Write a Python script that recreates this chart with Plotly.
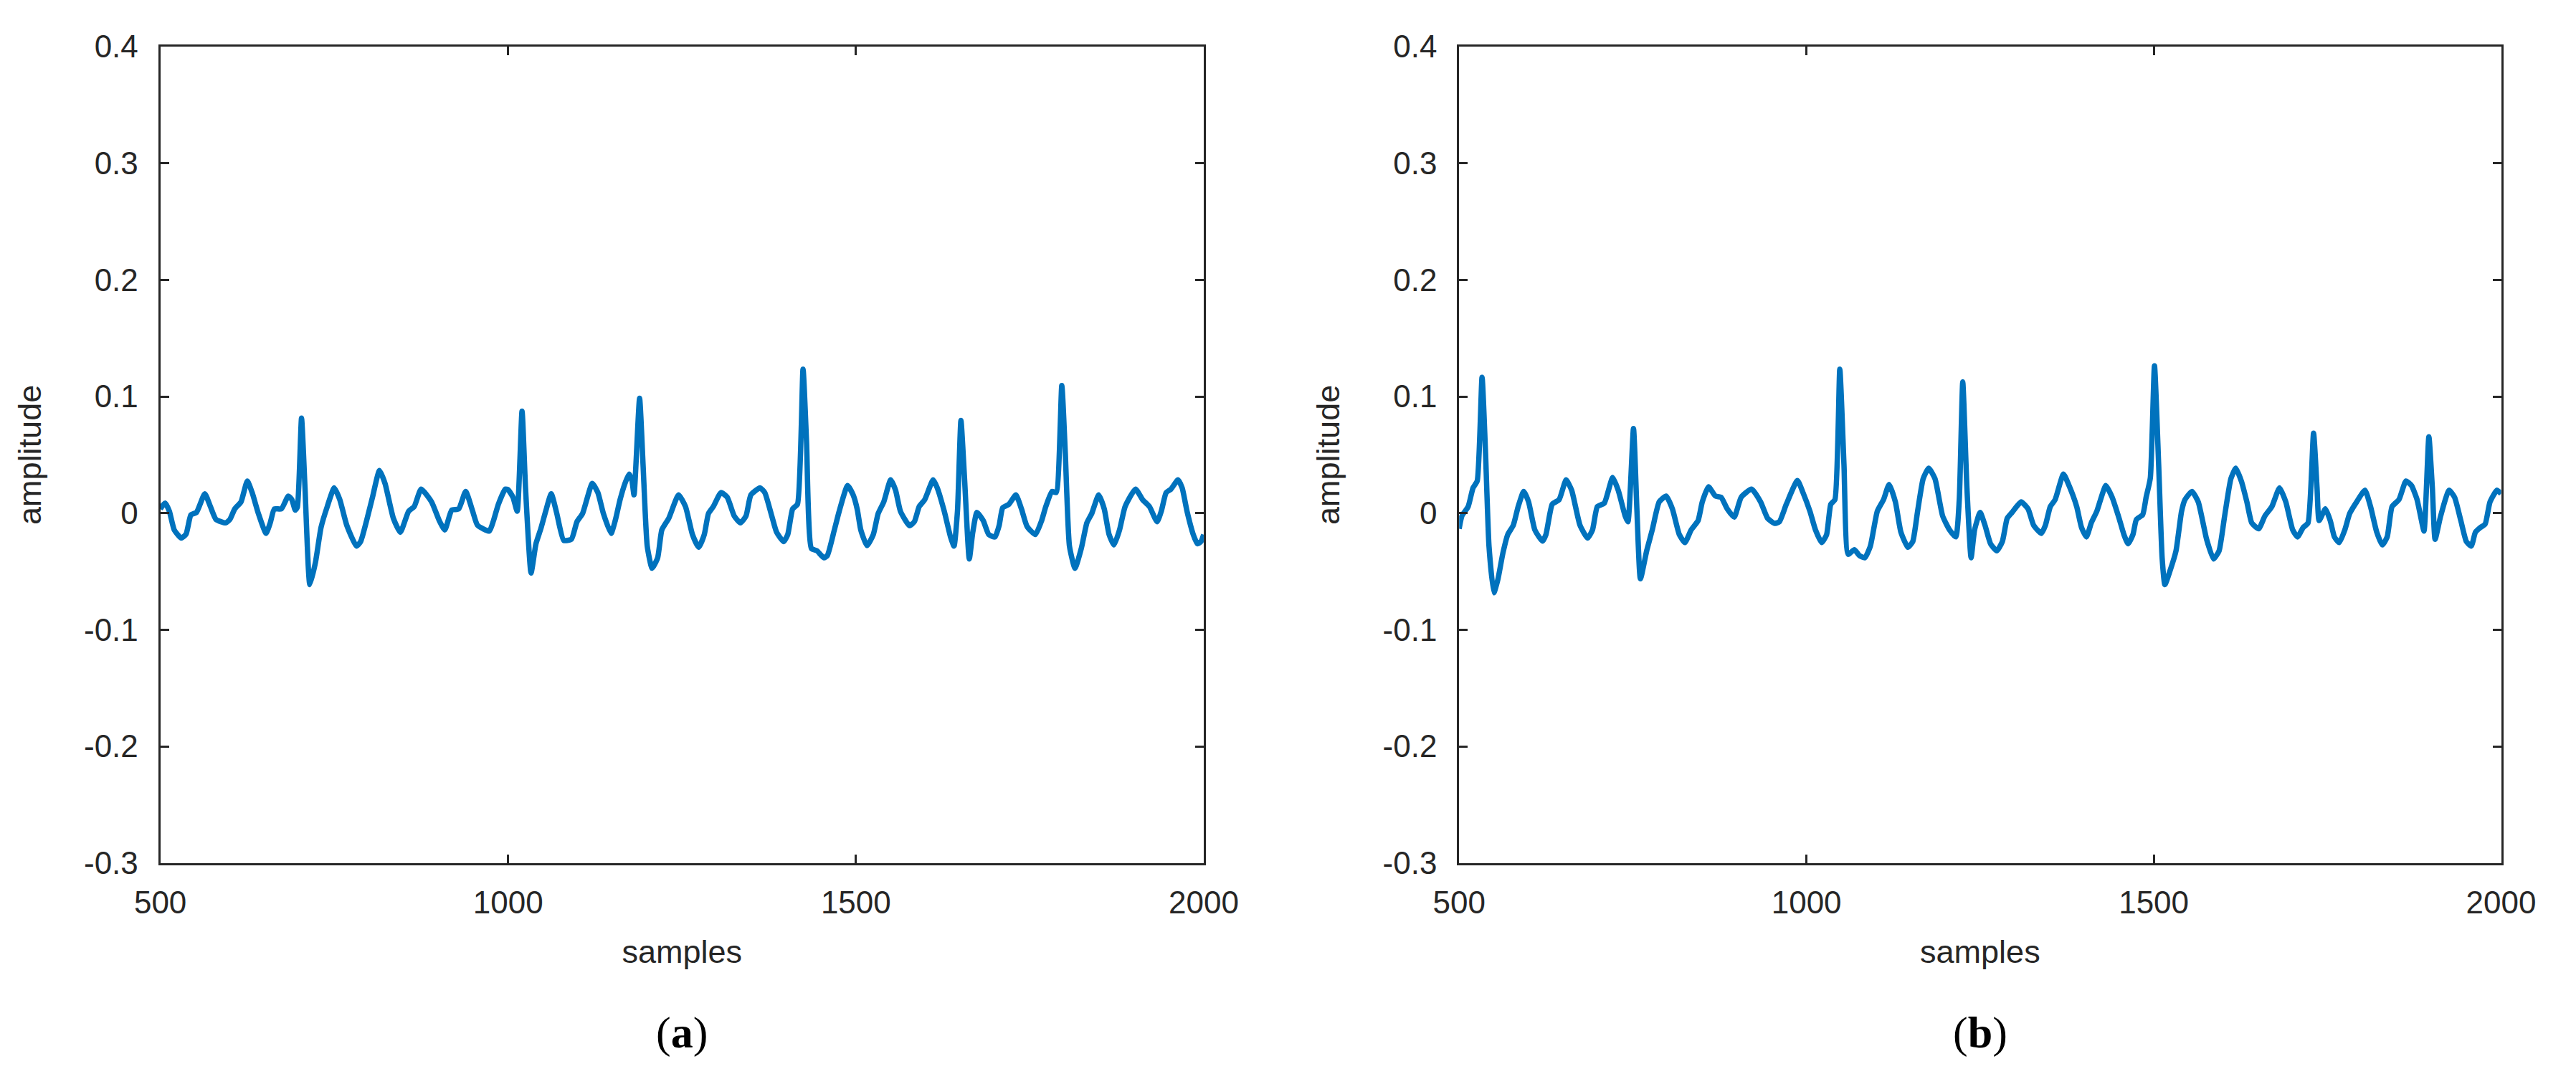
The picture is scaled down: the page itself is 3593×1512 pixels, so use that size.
import plotly.graph_objects as go

# ---- data: panel (a) ----
samples_a = [500, 507, 513, 520, 530, 537, 544, 552, 564, 572, 580, 594, 600, 607, 616, 625, 632, 641, 652, 658,
             664, 674, 684, 689, 694, 697, 703, 708, 715, 723, 731, 740, 750, 758, 768, 782, 788, 797, 805, 815,
             823, 835, 845, 857, 865, 875, 890, 901, 909, 919, 929, 939, 949, 956, 973, 979, 986, 996, 1000, 1007,
             1013, 1020, 1025, 1033, 1040, 1047, 1054, 1062, 1070, 1080, 1091, 1099, 1107, 1121, 1129, 1137, 1148, 1154, 1161, 1168,
             1174, 1178, 1181, 1189, 1194, 1200, 1207, 1215, 1221, 1231, 1245, 1255, 1265, 1274, 1282, 1288, 1295, 1306, 1315, 1325,
             1334, 1342, 1349, 1362, 1369, 1379, 1386, 1396, 1402, 1409, 1416, 1424, 1429, 1436, 1444, 1454, 1459, 1469, 1476, 1488,
             1496, 1502, 1507, 1516, 1525, 1532, 1540, 1550, 1557, 1564, 1577, 1584, 1591, 1599, 1611, 1617, 1627, 1636, 1641, 1646,
             1651, 1656, 1663, 1668, 1674, 1683, 1691, 1700, 1706, 1711, 1720, 1730, 1738, 1746, 1758, 1767, 1773, 1782, 1788, 1796,
             1801, 1807, 1815, 1824, 1832, 1839, 1849, 1857, 1864, 1871, 1879, 1887, 1902, 1912, 1922, 1933, 1939, 1946, 1953, 1963,
             1969, 1976, 1985, 1991, 1996, 2000]
amplitude_a = [0.0036, 0.0086, 0.0016, -0.0144, -0.0214, -0.0180, -0.0014, 0.0006, 0.0166, 0.0056, -0.0054, -0.0084, -0.0054, 0.0036, 0.0096, 0.0275, 0.0176, -0.0004, -0.0174, -0.0084,
               0.0036, 0.0036, 0.0146, 0.0116, 0.0026, 0.0050, 0.0814, 0.0216, -0.0613, -0.0423, -0.0124, 0.0056, 0.0216, 0.0116, -0.0104, -0.0283, -0.0244, -0.0054, 0.0136, 0.0365,
               0.0255, -0.0044, -0.0164, 0.0016, 0.0056, 0.0206, 0.0096, -0.0064, -0.0144, 0.0026, 0.0036, 0.0186, 0.0016, -0.0104, -0.0154, -0.0064, 0.0076, 0.0206, 0.0200, 0.0136,
               0.0016, 0.0874, 0.0216, -0.0513, -0.0263, -0.0134, 0.0016, 0.0166, -0.0004, -0.0234, -0.0224, -0.0074, -0.0004, 0.0255, 0.0176, -0.0004, -0.0174, -0.0064, 0.0116, 0.0255,
               0.0335, 0.0280, 0.0156, 0.0984, 0.0415, -0.0283, -0.0473, -0.0383, -0.0144, -0.0044, 0.0156, 0.0056, -0.0184, -0.0293, -0.0184, -0.0004, 0.0056, 0.0176, 0.0136, -0.0024,
               -0.0084, -0.0024, 0.0156, 0.0216, 0.0176, -0.0024, -0.0164, -0.0244, -0.0184, 0.0036, 0.0076, 0.1234, 0.0615, -0.0303, -0.0323, -0.0383, -0.0363, -0.0144, 0.0016, 0.0236,
               0.0156, 0.0030, -0.0144, -0.0279, -0.0184, -0.0004, 0.0096, 0.0285, 0.0196, 0.0016, -0.0108, -0.0074, 0.0056, 0.0116, 0.0285, 0.0216, 0.0016, -0.0204, -0.0283, 0.0016,
               0.0794, 0.0315, -0.0393, -0.0164, 0.0006, -0.0064, -0.0184, -0.0204, -0.0104, 0.0046, 0.0076, 0.0156, 0.0036, -0.0114, -0.0184, -0.0064, 0.0056, 0.0186, 0.0176, 0.1094,
               0.0515, -0.0283, -0.0473, -0.0303, -0.0084, -0.0004, 0.0156, 0.0036, -0.0184, -0.0273, -0.0144, 0.0056, 0.0206, 0.0116, 0.0056, -0.0074, 0.0016, 0.0176, 0.0206, 0.0285,
               0.0216, 0.0016, -0.0184, -0.0263, -0.0244, -0.0184]

# ---- data: panel (b) ----
samples_b = [500, 504, 513, 520, 526, 533, 538, 543, 550, 556, 563, 570, 578, 585, 593, 600, 609, 620, 625, 634,
             644, 654, 662, 674, 685, 692, 699, 709, 721, 729, 739, 743, 751, 756, 761, 770, 778, 788, 798, 807,
             817, 825, 834, 844, 850, 859, 869, 877, 886, 896, 906, 921, 934, 944, 954, 961, 971, 987, 995, 1005,
             1013, 1022, 1029, 1035, 1041, 1048, 1054, 1060, 1069, 1076, 1084, 1092, 1102, 1111, 1119, 1128, 1136, 1146, 1153, 1160,
             1168, 1176, 1185, 1196, 1206, 1215, 1220, 1225, 1231, 1237, 1242, 1250, 1257, 1265, 1274, 1282, 1289, 1296, 1309, 1319,
             1327, 1338, 1344, 1351, 1358, 1370, 1378, 1389, 1396, 1403, 1410, 1418, 1431, 1440, 1450, 1457, 1463, 1470, 1475, 1484,
             1489, 1495, 1501, 1507, 1512, 1516, 1524, 1532, 1540, 1545, 1555, 1564, 1576, 1586, 1594, 1602, 1611, 1618, 1626, 1634,
             1641, 1651, 1660, 1670, 1681, 1690, 1700, 1707, 1715, 1722, 1730, 1735, 1738, 1747, 1754, 1760, 1767, 1775, 1782, 1792,
             1804, 1812, 1821, 1829, 1836, 1843, 1853, 1863, 1871, 1879, 1884, 1889, 1896, 1901, 1905, 1913, 1925, 1933, 1942, 1950,
             1957, 1963, 1970, 1977, 1984, 1994, 2000]
amplitude_b = [-0.0134, -0.0024, 0.0056, 0.0216, 0.0275, 0.1164, 0.0515, -0.0283, -0.0683, -0.0563, -0.0343, -0.0184, -0.0104, 0.0056, 0.0186, 0.0096, -0.0144, -0.0240, -0.0184, 0.0076,
               0.0116, 0.0285, 0.0196, -0.0104, -0.0214, -0.0144, 0.0056, 0.0086, 0.0305, 0.0196, -0.0024, -0.0074, 0.0725, 0.0016, -0.0563, -0.0323, -0.0144, 0.0096, 0.0146, 0.0036,
               -0.0184, -0.0253, -0.0144, -0.0064, 0.0096, 0.0226, 0.0146, 0.0136, 0.0036, -0.0034, 0.0136, 0.0206, 0.0096, -0.0044, -0.0088, -0.0074, 0.0076, 0.0280, 0.0176, 0.0016,
               -0.0144, -0.0253, -0.0184, 0.0076, 0.0116, 0.1234, 0.0415, -0.0353, -0.0313, -0.0363, -0.0383, -0.0283, 0.0016, 0.0116, 0.0246, 0.0096, -0.0164, -0.0293, -0.0244, 0.0016,
               0.0295, 0.0385, 0.0295, -0.0024, -0.0144, -0.0204, 0.0116, 0.1124, 0.0216, -0.0383, -0.0144, 0.0006, -0.0104, -0.0263, -0.0323, -0.0244, -0.0044, 0.0006, 0.0096, 0.0036,
               -0.0104, -0.0174, -0.0104, 0.0056, 0.0116, 0.0335, 0.0236, 0.0056, -0.0124, -0.0204, -0.0084, 0.0016, 0.0236, 0.0136, -0.0044, -0.0184, -0.0263, -0.0184, -0.0054, -0.0014,
               0.0136, 0.0300, 0.1263, 0.0415, -0.0383, -0.0613, -0.0483, -0.0323, 0.0016, 0.0116, 0.0186, 0.0096, -0.0224, -0.0393, -0.0323, -0.0024, 0.0295, 0.0385, 0.0275, 0.0096,
               -0.0084, -0.0134, -0.0024, 0.0056, 0.0216, 0.0096, -0.0144, -0.0204, -0.0124, -0.0084, 0.0685, 0.0216, -0.0064, 0.0036, -0.0064, -0.0204, -0.0253, -0.0144, -0.0004, 0.0096,
               0.0196, 0.0056, -0.0164, -0.0273, -0.0204, 0.0056, 0.0116, 0.0275, 0.0236, 0.0116, -0.0024, -0.0154, 0.0655, 0.0216, -0.0224, -0.0024, 0.0196, 0.0136, -0.0064, -0.0244,
               -0.0283, -0.0164, -0.0124, -0.0094, 0.0096, 0.0196, 0.0166]

x_tickvals = [500, 1000, 1500, 2000]
x_ticktext = ["500", "1000", "1500", "2000"]
y_tickvals = [-0.3, -0.2, -0.1, 0.0, 0.1, 0.2, 0.3, 0.4]
y_ticktext = ["-0.3", "-0.2", "-0.1", "0", "0.1", "0.2", "0.3", "0.4"]
captions = ["(<b>a</b>)", "(<b>b</b>)"]

W, H = 3593, 1512
LINE_COLOR = "#0072BD"
AX_COLOR = "#262626"
TICK_FONT = dict(family="Liberation Sans, Arial, sans-serif", size=44, color=AX_COLOR)
TITLE_FONT = dict(family="Liberation Sans, Arial, sans-serif", size=45, color=AX_COLOR)
CAPTION_FONT = dict(family="Liberation Serif, Times New Roman, serif", size=62, color="black")

fig = go.Figure()
fig.add_trace(go.Scatter(x=samples_a, y=amplitude_a, mode="lines",
                         line=dict(color=LINE_COLOR, width=7.5, shape="spline", smoothing=0.5),
                         xaxis="x", yaxis="y", showlegend=False))
fig.add_trace(go.Scatter(x=samples_b, y=amplitude_b, mode="lines",
                         line=dict(color=LINE_COLOR, width=7.5, shape="spline", smoothing=0.5),
                         xaxis="x2", yaxis="y2", showlegend=False))

ydom = [1 - 1210 / H, 1 - 33 / H]
xdom_a = [183 / W, 1674 / W]
xdom_b = [2039 / W, 3528 / W]

def xaxis(domain, anchor):
    return dict(domain=domain, anchor=anchor, range=[500, 2000], tickmode="array",
                tickvals=x_tickvals, ticktext=x_ticktext, ticks="inside", ticklen=12,
                tickwidth=3, tickcolor=AX_COLOR, showline=True, linecolor=AX_COLOR, linewidth=3,
                mirror="ticks", showgrid=False, zeroline=False, tickfont=TICK_FONT,
                ticklabelstandoff=14,
                title=dict(text="samples", font=TITLE_FONT, standoff=30))

def yaxis(anchor):
    return dict(domain=ydom, anchor=anchor, range=[-0.3, 0.4], tickmode="array",
                tickvals=y_tickvals, ticktext=y_ticktext, ticks="inside", ticklen=12,
                tickwidth=3, tickcolor=AX_COLOR, showline=True, linecolor=AX_COLOR, linewidth=3,
                mirror="ticks", showgrid=False, zeroline=False, tickfont=TICK_FONT,
                ticklabelstandoff=19,
                title=dict(text="amplitude", font=TITLE_FONT, standoff=46))

fig.update_layout(
    width=W, height=H,
    margin=dict(l=0, r=0, t=0, b=0),
    paper_bgcolor="white", plot_bgcolor="white",
    xaxis=xaxis(xdom_a, "y"), yaxis=yaxis("x"),
    xaxis2=xaxis(xdom_b, "y2"), yaxis2=yaxis("x2"),
    annotations=[
        dict(text=captions[0], x=(xdom_a[0] + xdom_a[1]) / 2, y=1 - 1455 / H, xref="paper", yref="paper",
             showarrow=False, xanchor="center", yanchor="middle", font=CAPTION_FONT),
        dict(text=captions[1], x=(xdom_b[0] + xdom_b[1]) / 2, y=1 - 1455 / H, xref="paper", yref="paper",
             showarrow=False, xanchor="center", yanchor="middle", font=CAPTION_FONT),
    ],
)

fig.write_html("out.html")
